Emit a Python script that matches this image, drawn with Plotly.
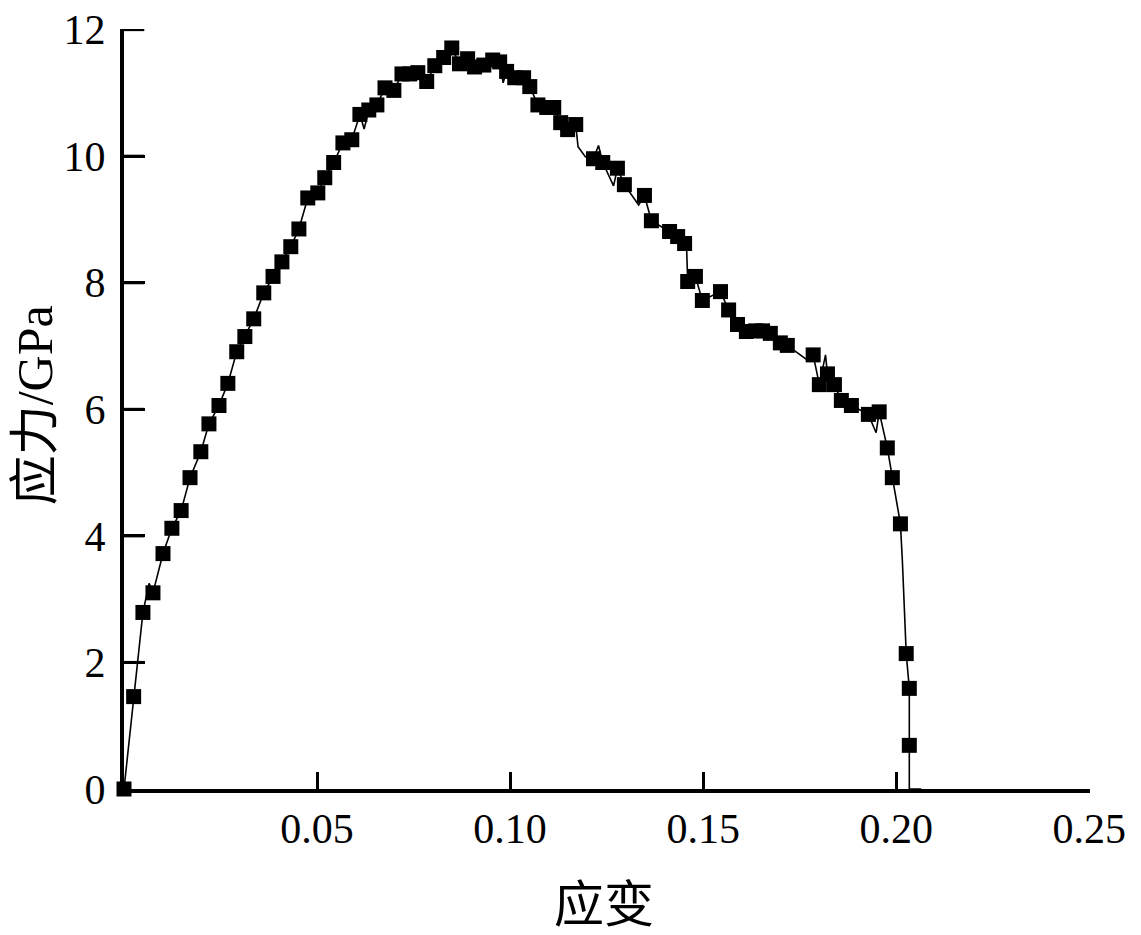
import plotly.graph_objects as go

# Точки-маркеры кривой (деформация, напряжение)
strain = [0.0000, 0.0025, 0.0049, 0.0075, 0.0101, 0.0124, 0.0148, 0.0171, 0.0199, 0.0220,
          0.0246, 0.0269, 0.0292, 0.0313, 0.0336, 0.0362, 0.0386, 0.0409, 0.0432, 0.0453,
          0.0476, 0.0502, 0.0520, 0.0543, 0.0567, 0.0590, 0.0611, 0.0634, 0.0655, 0.0676,
          0.0699, 0.0720, 0.0740, 0.0761, 0.0784, 0.0805, 0.0828, 0.0849, 0.0869, 0.0890,
          0.0908, 0.0932, 0.0955, 0.0973, 0.0991, 0.1012, 0.1035, 0.1051, 0.1072, 0.1095,
          0.1113, 0.1131, 0.1149, 0.1170, 0.1216, 0.1240, 0.1278, 0.1296, 0.1348, 0.1366,
          0.1413, 0.1434, 0.1452, 0.1460, 0.1480, 0.1498, 0.1545, 0.1566, 0.1589, 0.1612,
          0.1636, 0.1654, 0.1674, 0.1700, 0.1718, 0.1785, 0.1801, 0.1822, 0.1840, 0.1858,
          0.1884, 0.1928, 0.1956, 0.1977, 0.1990, 0.2011, 0.2026, 0.2034, 0.2034]
stress = [0.00, 1.46, 2.79, 3.10, 3.72, 4.12, 4.40, 4.92, 5.33, 5.77,
          6.06, 6.41, 6.91, 7.15, 7.43, 7.84, 8.10, 8.33, 8.57, 8.85,
          9.34, 9.42, 9.66, 9.90, 10.21, 10.26, 10.66, 10.73, 10.81, 11.08,
          11.04, 11.30, 11.30, 11.32, 11.18, 11.43, 11.56, 11.71, 11.46, 11.54,
          11.41, 11.44, 11.52, 11.49, 11.34, 11.24, 11.24, 11.10, 10.81, 10.77,
          10.77, 10.53, 10.42, 10.50, 9.96, 9.90, 9.81, 9.55, 9.38, 8.98,
          8.81, 8.73, 8.62, 8.02, 8.10, 7.72, 7.86, 7.57, 7.34, 7.23,
          7.24, 7.24, 7.20, 7.05, 7.01, 6.86, 6.39, 6.56, 6.39, 6.14,
          6.06, 5.92, 5.96, 5.39, 4.92, 4.19, 2.14, 1.59, 0.69]

# Дополнительные точки линии между маркерами (зубцы и хвост)
extra_strain = [0.0065, 0.0622, 0.0982, 0.1176, 0.1195, 0.1229, 0.1268, 0.1333,
                0.1457, 0.1772, 0.1817, 0.1948, 0.2016, 0.2021, 0.2034, 0.2065]
extra_stress = [3.25, 10.43, 11.16, 10.15, 9.99, 10.17, 9.53, 9.23,
                8.59, 6.77, 6.86, 5.63, 3.61, 2.82, 0.00, 0.00]

x_ticks = [0.05, 0.10, 0.15, 0.20, 0.25]
x_labels = ['0.05', '0.10', '0.15', '0.20', '0.25']
y_ticks = [0, 2, 4, 6, 8, 10, 12]

# Линия: маркеры + дополнительные точки, по возрастанию деформации
line_pts = sorted(list(zip(strain, stress)) + list(zip(extra_strain, extra_stress)),
                  key=lambda p: p[0])
line_x = [p[0] for p in line_pts]
line_y = [p[1] for p in line_pts]

FONT = 'Liberation Serif, Times New Roman, Noto Sans CJK SC, serif'

fig = go.Figure()

fig.add_trace(go.Scatter(
    x=line_x, y=line_y, mode='lines',
    line=dict(color='black', width=1.6),
    cliponaxis=False, showlegend=False
))

fig.add_trace(go.Scatter(
    x=strain, y=stress, mode='markers',
    marker=dict(symbol='square', size=15, color='black'),
    cliponaxis=False, showlegend=False
))

# Засечки оси Y внутрь (рисуем явно линиями от оси)
for v in y_ticks[1:]:
    fig.add_shape(type='line', xref='paper', yref='y',
                  x0=0, x1=0.021, y0=v, y1=v,
                  line=dict(color='black', width=3), layer='above')

# страница имеет отступ 8px у body, поэтому поля уменьшены на 8
fig.update_layout(
    width=1133, height=927,
    margin=dict(l=116, r=51, t=21, b=146, autoexpand=False),
    paper_bgcolor='white', plot_bgcolor='white',
    font=dict(family=FONT, color='black', size=42),
    annotations=[
        dict(text='应变', xref='paper', yref='paper', x=0.497, y=-0.153,
             xanchor='center', yanchor='middle',
             showarrow=False, font=dict(size=50, family=FONT)),
        dict(text='应力/GPa', xref='paper', yref='paper', x=-0.092, y=0.505,
             xanchor='center', yanchor='middle',
             showarrow=False, textangle=-90, font=dict(size=50, family=FONT)),
    ]
)

fig.update_xaxes(
    range=[0, 0.2502], tickvals=x_ticks, ticktext=x_labels,
    showline=True, linecolor='black', linewidth=4,
    ticks='inside', ticklen=17, tickwidth=3, tickcolor='black',
    showgrid=False, zeroline=False, ticklabeloverflow='allow',
    automargin=False
)
fig.update_yaxes(
    range=[0, 12.01], tickvals=y_ticks,
    showline=True, linecolor='black', linewidth=4,
    ticks='inside', ticklen=21, tickwidth=3, tickcolor='black',
    showgrid=False, zeroline=False, ticklabeloverflow='allow',
    ticklabelstandoff=6, automargin=False
)

fig.write_html("out.html")
